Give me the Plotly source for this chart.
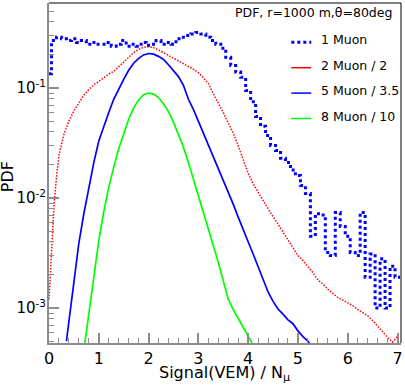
import numpy as np
import plotly.graph_objects as go

# ---------------- data ----------------
# 1 Muon: histogram, first partial bin [0,0.05] then 0.1-wide bins starting at 0.05
one_muon_first = 0.135
one_muon = [0.27, 0.29, 0.28, 0.27, 0.28, 0.26, 0.27, 0.25, 0.26, 0.25,
            0.25, 0.26, 0.24, 0.25, 0.27, 0.24, 0.25, 0.24, 0.26, 0.245,
            0.25, 0.27, 0.25, 0.26, 0.25, 0.28, 0.29, 0.30, 0.31, 0.32,
            0.31, 0.29, 0.27, 0.25, 0.23, 0.19, 0.16, 0.14, 0.125, 0.095,
            0.075, 0.055, 0.045, 0.037, 0.030, 0.027, 0.023, 0.021, 0.018, 0.016,
            0.013, 0.011, 0.0045, 0.0072, 0.0070, 0.0032, 0.0030, 0.0074, 0.0055, 0.0045,
            0.0032, 0.0030, 0.0074, 0.0019, 0.0031, 0.0010, 0.0028, 0.0010, 0.0024, 0.0019]

x_red = [0.0, 0.05, 0.1, 0.15, 0.2, 0.3, 0.4, 0.5, 0.6, 0.7, 0.8, 0.9, 1.0, 1.1, 1.2, 1.3,
         1.4, 1.5, 1.6, 1.7, 1.8, 1.9, 2.0, 2.1, 2.2, 2.3, 2.4, 2.5, 2.6, 2.7, 2.8, 2.9,
         3.0, 3.1, 3.2, 3.3, 3.4, 3.5, 3.6, 3.7, 3.8, 3.9, 4.0, 4.1, 4.2, 4.3, 4.4, 4.5,
         4.6, 4.7, 4.8, 4.9, 5.0, 5.1, 5.2, 5.3, 5.4, 5.5, 5.6, 5.7, 5.8, 5.9, 6.0, 6.1,
         6.2, 6.3, 6.4, 6.5, 6.6, 6.7, 6.8, 6.9, 7.0]
y_red = [0.0012, 0.003, 0.0085, 0.0155, 0.0245, 0.038, 0.050, 0.062, 0.074, 0.086,
         0.097, 0.107, 0.115, 0.125, 0.134, 0.142, 0.155, 0.172, 0.19, 0.21, 0.225,
         0.235, 0.237, 0.233, 0.222, 0.21, 0.198, 0.188, 0.178, 0.168, 0.157, 0.148,
         0.138, 0.124, 0.11, 0.089, 0.074, 0.06, 0.048, 0.039, 0.030, 0.022, 0.0168,
         0.0135, 0.0112, 0.0095, 0.0080, 0.0068, 0.0057, 0.0048, 0.0041, 0.0035, 0.0030,
         0.0027, 0.0024, 0.0021, 0.0018, 0.00165, 0.00148, 0.00135, 0.00125, 0.00118,
         0.00112, 0.00105, 0.00097, 0.00090, 0.00085, 0.00077, 0.00068, 0.00060,
         0.00054, 0.00049, 0.00055]

x_blue5 = [0.35, 0.4, 0.5, 0.6, 0.7, 0.8, 0.9, 1.0, 1.1, 1.2, 1.3, 1.4, 1.5, 1.6, 1.7,
           1.8, 1.9, 2.0, 2.1, 2.2, 2.3, 2.4, 2.5, 2.6, 2.7, 2.8, 2.9, 3.0, 3.1, 3.2,
           3.3, 3.4, 3.5, 3.6, 3.7, 3.8, 3.9, 4.0, 4.1, 4.2, 4.3, 4.4, 4.5, 4.6, 4.7,
           4.8, 4.9, 5.0, 5.1, 5.2, 5.25]
y_blue5 = [0.0005, 0.00075, 0.0019, 0.0039, 0.0072, 0.0125, 0.021, 0.033, 0.045, 0.06,
           0.079, 0.099, 0.12, 0.145, 0.168, 0.186, 0.2, 0.206, 0.203, 0.194, 0.182,
           0.163, 0.145, 0.127, 0.106, 0.079, 0.064, 0.050, 0.040, 0.031, 0.024, 0.019,
           0.015, 0.0115, 0.0088, 0.0067, 0.0051, 0.0040, 0.0031, 0.0024, 0.0018,
           0.0014, 0.00115, 0.00098, 0.00088, 0.00078, 0.00072, 0.00062, 0.00055,
           0.0005, 0.00046]

x_green = [0.72, 0.8, 0.9, 1.0, 1.1, 1.2, 1.3, 1.4, 1.5, 1.6, 1.7, 1.8, 1.9, 2.0, 2.1,
           2.2, 2.3, 2.4, 2.5, 2.6, 2.7, 2.8, 2.9, 3.0, 3.1, 3.2, 3.3, 3.4, 3.5, 3.6,
           3.7, 3.8, 3.9, 4.0, 4.08]
y_green = [0.00048, 0.0009, 0.0019, 0.0041, 0.0075, 0.0125, 0.019, 0.028, 0.038, 0.052,
           0.066, 0.078, 0.087, 0.090, 0.088, 0.082, 0.072, 0.061, 0.049, 0.038, 0.029,
           0.021, 0.015, 0.0105, 0.0075, 0.0053, 0.0037, 0.0026, 0.0018, 0.0012,
           0.00097, 0.0008, 0.00066, 0.00055, 0.00048]

legend_header = "PDF, r=1000 m,θ=80deg"
legend_labels = ["1 Muon", "2 Muon / 2", "5 Muon / 3.5", "8 Muon / 10"]
y_ticks = [1e-3, 1e-2, 1e-1]
y_ticktext = ["10<sup>-3</sup>", "10<sup>-2</sup>", "10<sup>-1</sup>"]
x_ticks = [0, 1, 2, 3, 4, 5, 6, 7]

# ---------------- build ----------------
BLUE, RED, GREEN = "#0000ff", "#ff0000", "#00ff00"
GRAY = "#8c8c8c"
FONT = "DejaVu Sans"

bin_w = 0.1
edges = 0.05 + bin_w * np.arange(len(one_muon) + 1)
x1 = [0.0] + list(edges)
y1 = [one_muon_first] + one_muon + [one_muon[-1]]

fig = go.Figure()
fig.add_trace(go.Scatter(x=x_red, y=y_red, mode="lines", line=dict(color=RED, width=1.5, dash="1.5px,1.5px"),
                         showlegend=False))
fig.add_trace(go.Scatter(x=x_blue5, y=y_blue5, mode="lines", line=dict(color=BLUE, width=1.7),
                         showlegend=False))
fig.add_trace(go.Scatter(x=x_green, y=y_green, mode="lines", line=dict(color=GREEN, width=1.7),
                         showlegend=False))
fig.add_trace(go.Scatter(x=x1, y=y1, mode="lines", line_shape="hv",
                         line=dict(color=BLUE, width=3, dash="dot"), showlegend=False))

ylo, yhi = -3.318, -0.227
minor_y = [m * 10.0 ** e for e in (-4, -3, -2, -1) for m in range(2, 10)]
minor_y = [v for v in minor_y if 10 ** ylo <= v <= 10 ** yhi]

fig.update_xaxes(range=[0, 7.07], showline=True, linecolor=GRAY, linewidth=2,
                 ticks="inside", ticklen=10, tickwidth=1.5, tickcolor=GRAY,
                 tickvals=x_ticks, showgrid=False, zeroline=False,
                 tickfont=dict(family=FONT, size=16, color="black"),
                 minor=dict(ticks="inside", ticklen=5, tickwidth=1, tickcolor=GRAY, dtick=0.2, showgrid=False))
fig.update_yaxes(type="log", range=[ylo, yhi], showline=True, linecolor=GRAY, linewidth=2,
                 ticks="inside", ticklen=10, tickwidth=1.5, tickcolor=GRAY,
                 tickvals=y_ticks, ticktext=y_ticktext, showgrid=False, zeroline=False,
                 tickfont=dict(family=FONT, size=15, color="black"), ticklabelstandoff=-2,
                 minor=dict(ticks="inside", ticklen=5, tickwidth=1, tickcolor=GRAY,
                            tickvals=minor_y, showgrid=False))

shapes = [
    dict(type="line", xref="paper", yref="paper", x0=0, x1=1, y0=1, y1=1, line=dict(color="black", width=1)),
    dict(type="line", xref="paper", yref="paper", x0=1, x1=1, y0=0, y1=1, line=dict(color="black", width=1)),
]
W_px, H_px = 354.0, 340.0
def px2paper(px, py):
    return (px - 49.0) / W_px, (343.0 - py) / H_px

leg_styles = [dict(color=BLUE, width=3, dash="dot"), dict(color=RED, width=1.5),
              dict(color=BLUE, width=1.5), dict(color=GREEN, width=1.5)]
annotations = []
hx, hy = px2paper(396, 12)
annotations.append(dict(text=legend_header, xref="paper", yref="paper", x=hx, y=hy, xanchor="right",
                        yanchor="middle", showarrow=False, font=dict(family=FONT, size=12.5, color="black")))
for i, (lab, st) in enumerate(zip(legend_labels, leg_styles)):
    ty = 39.8 + 25.4 * i
    lx0, ly = px2paper(292.7, ty + 2.5)
    lx1, _ = px2paper(312.7, ty)
    shapes.append(dict(type="line", xref="paper", yref="paper", x0=lx0, x1=lx1, y0=ly, y1=ly, line=st))
    tx, tyy = px2paper(321, ty)
    annotations.append(dict(text=lab, xref="paper", yref="paper", x=tx, y=tyy, xanchor="left", yanchor="middle",
                            showarrow=False, font=dict(family=FONT, size=12.5, color="black")))

ax, ay = px2paper(225, 386)
annotations.append(dict(text="Signal(VEM) / N<sub>μ</sub>", xref="paper", yref="paper", x=ax, y=ay,
                        xanchor="center", yanchor="bottom", showarrow=False,
                        font=dict(family=FONT, size=16, color="black")))
yx, yy = px2paper(7, 177)
annotations.append(dict(text="PDF", xref="paper", yref="paper", x=yx, y=yy, textangle=-90,
                        xanchor="center", yanchor="middle", showarrow=False,
                        font=dict(family=FONT, size=16, color="black")))

fig.update_layout(width=405, height=387, margin=dict(l=49, r=2, t=3, b=44),
                  paper_bgcolor="white", plot_bgcolor="white",
                  shapes=shapes, annotations=annotations, showlegend=False)

fig.write_html("out.html", config={"displayModeBar": False},
               post_script="document.body.style.margin='0';document.body.style.overflow='hidden';")
